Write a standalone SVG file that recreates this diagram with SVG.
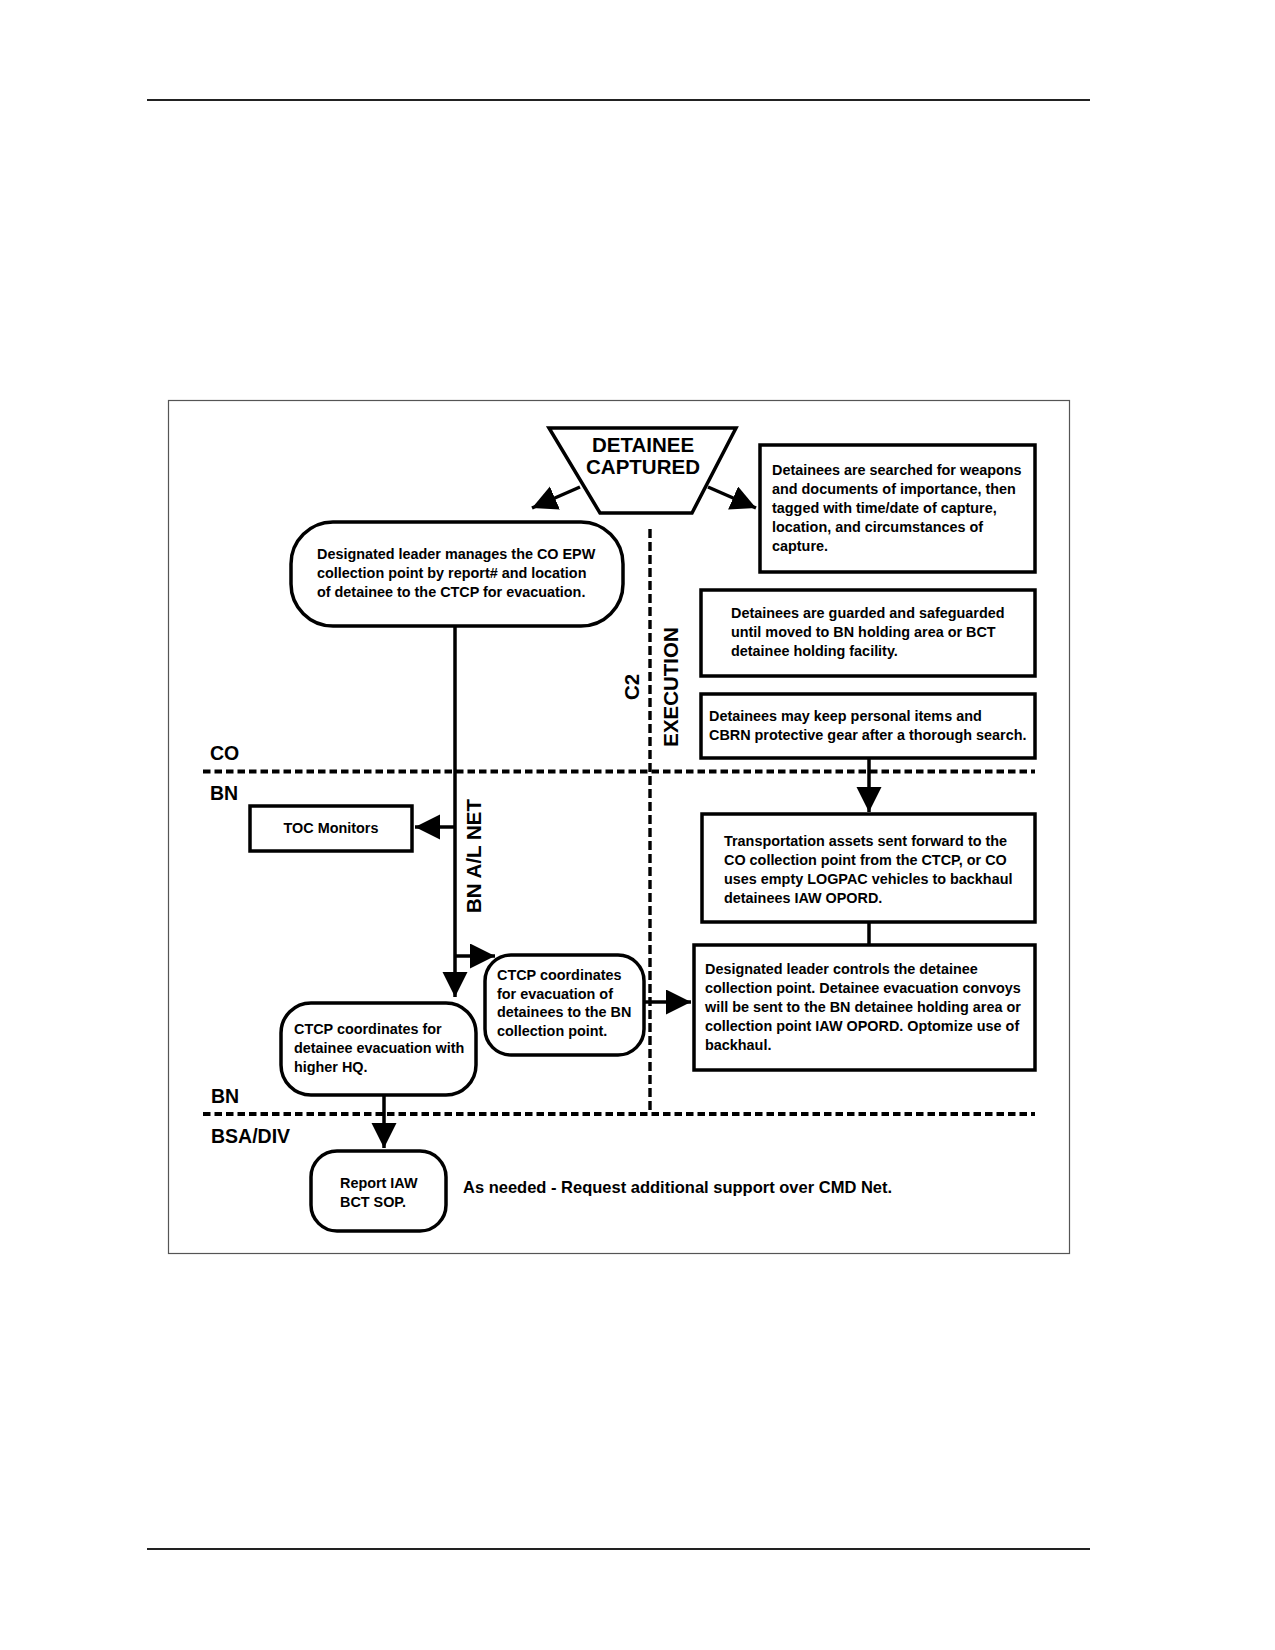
<svg xmlns="http://www.w3.org/2000/svg" width="1275" height="1650" viewBox="0 0 1275 1650">
<style>
.box{fill:#fff;stroke:#000;stroke-width:3.5}
.t{font-family:"Liberation Sans",Arial,sans-serif;font-weight:bold;font-size:14.4px;fill:#000}
.big{font-family:"Liberation Sans",Arial,sans-serif;font-weight:bold;font-size:20.5px;fill:#000}
.lab{font-family:"Liberation Sans",Arial,sans-serif;font-weight:bold;font-size:19.5px;fill:#000}
.ln{fill:none;stroke:#000;stroke-width:3.5}
.dash{fill:none;stroke:#000;stroke-width:4;stroke-dasharray:7.5 4}
.vdash{fill:none;stroke:#000;stroke-width:3.4;stroke-dasharray:9 4}
</style>
<defs>
<marker id="ah" markerUnits="userSpaceOnUse" markerWidth="26" markerHeight="26" refX="25" refY="12.5" orient="auto">
<path d="M0,0 L25,12.5 L0,25 z" fill="#000"/>
</marker>
</defs>
<rect width="1275" height="1650" fill="#fff"/>
<line x1="147" y1="100" x2="1090" y2="100" stroke="#222" stroke-width="2"/>
<line x1="147" y1="1549" x2="1090" y2="1549" stroke="#222" stroke-width="2"/>
<rect x="168.5" y="400.5" width="901" height="853" fill="none" stroke="#555" stroke-width="1.2"/>

<g id="lanes">
<line class="dash" x1="203" y1="771.5" x2="1035" y2="771.5"/>
<line class="dash" x1="203" y1="1114" x2="1035" y2="1114"/>
<line class="vdash" x1="650" y1="529" x2="650" y2="1112"/>
<text class="lab" x="210" y="760">CO</text>
<text class="lab" x="210" y="800">BN</text>
<text class="lab" x="211" y="1103">BN</text>
<text class="lab" x="211" y="1143">BSA/DIV</text>
<text class="big" transform="translate(638.5,687) rotate(-90)" text-anchor="middle">C2</text>
<text class="big" transform="translate(677.5,687) rotate(-90)" text-anchor="middle">EXECUTION</text>
<text class="big" transform="translate(480.5,856) rotate(-90)" text-anchor="middle">BN A/L NET</text>
</g>

<g id="connectors">
<line class="ln" x1="580" y1="487" x2="532" y2="508" marker-end="url(#ah)"/>
<line class="ln" x1="708" y1="487" x2="756" y2="508" marker-end="url(#ah)"/>
<line class="ln" x1="455" y1="626" x2="455" y2="997" marker-end="url(#ah)"/>
<line class="ln" x1="455" y1="827" x2="415" y2="827" marker-end="url(#ah)"/>
<line class="ln" x1="455" y1="956" x2="495" y2="956" marker-end="url(#ah)"/>
<line class="ln" x1="644" y1="1002" x2="691" y2="1002" marker-end="url(#ah)"/>
<line class="ln" x1="869" y1="758" x2="869" y2="812" marker-end="url(#ah)"/>
<line class="ln" x1="869" y1="922" x2="869" y2="945"/>
<line class="ln" x1="384" y1="1095" x2="384" y2="1148" marker-end="url(#ah)"/>
</g>

<g id="detainee-captured">
<polygon class="box" points="549,428 736,428 692,513 600,513"/>
<text class="big" x="643" y="452" text-anchor="middle">DETAINEE</text>
<text class="big" x="643" y="474" text-anchor="middle">CAPTURED</text>
</g>

<g id="searched">
<rect class="box" x="760" y="445" width="275" height="127"/>
<text class="t"><tspan x="772" y="475">Detainees are searched for weapons</tspan><tspan x="772" y="494">and documents of importance, then</tspan><tspan x="772" y="513">tagged with time/date of capture,</tspan><tspan x="772" y="532">location, and circumstances of</tspan><tspan x="772" y="551">capture.</tspan></text>
</g>

<g id="guarded">
<rect class="box" x="701" y="590" width="334" height="86"/>
<text class="t"><tspan x="731" y="618">Detainees are guarded and safeguarded</tspan><tspan x="731" y="637">until moved to BN holding area or BCT</tspan><tspan x="731" y="656">detainee holding facility.</tspan></text>
</g>

<g id="personal-items">
<rect class="box" x="701" y="694" width="334" height="64"/>
<text class="t"><tspan x="709" y="721">Detainees may keep personal items and</tspan><tspan x="709" y="740">CBRN protective gear after a thorough search.</tspan></text>
</g>

<g id="co-collection">
<rect class="box" x="291" y="522" width="332" height="104" rx="42"/>
<text class="t"><tspan x="317" y="559">Designated leader manages the CO EPW</tspan><tspan x="317" y="578">collection point by report# and location</tspan><tspan x="317" y="597">of detainee to the CTCP for evacuation.</tspan></text>
</g>

<g id="toc-monitors">
<rect class="box" x="250" y="806" width="162" height="45"/>
<text class="t" x="331" y="833" text-anchor="middle">TOC Monitors</text>
</g>

<g id="transportation">
<rect class="box" x="702" y="814" width="333" height="108"/>
<text class="t"><tspan x="724" y="846">Transportation assets sent forward to the</tspan><tspan x="724" y="865">CO collection point from the CTCP, or CO</tspan><tspan x="724" y="884">uses empty LOGPAC vehicles to backhaul</tspan><tspan x="724" y="903">detainees IAW OPORD.</tspan></text>
</g>

<g id="ctcp-bn">
<rect class="box" x="485" y="955" width="159" height="100" rx="26"/>
<text class="t"><tspan x="497" y="980">CTCP coordinates</tspan><tspan x="497" y="999">for evacuation of</tspan><tspan x="497" y="1017">detainees to the BN</tspan><tspan x="497" y="1036">collection point.</tspan></text>
</g>

<g id="leader-controls">
<rect class="box" x="694" y="945" width="341" height="125"/>
<text class="t"><tspan x="705" y="974">Designated leader controls the detainee</tspan><tspan x="705" y="993">collection point. Detainee evacuation convoys</tspan><tspan x="705" y="1012">will be sent to the BN detainee holding area or</tspan><tspan x="705" y="1031">collection point IAW OPORD. Optomize use of</tspan><tspan x="705" y="1050">backhaul.</tspan></text>
</g>

<g id="ctcp-hq">
<rect class="box" x="281" y="1003" width="195" height="92" rx="30"/>
<text class="t"><tspan x="294" y="1034">CTCP coordinates for</tspan><tspan x="294" y="1053">detainee evacuation with</tspan><tspan x="294" y="1072">higher HQ.</tspan></text>
</g>

<g id="report">
<rect class="box" x="311" y="1151" width="135" height="80" rx="26"/>
<text class="t"><tspan x="340" y="1188">Report IAW</tspan><tspan x="340" y="1207">BCT SOP.</tspan></text>
</g>

<g id="note">
<text class="t" x="463" y="1193" style="font-size:16.5px">As needed - Request additional support over CMD Net.</text>
</g>
</svg>
